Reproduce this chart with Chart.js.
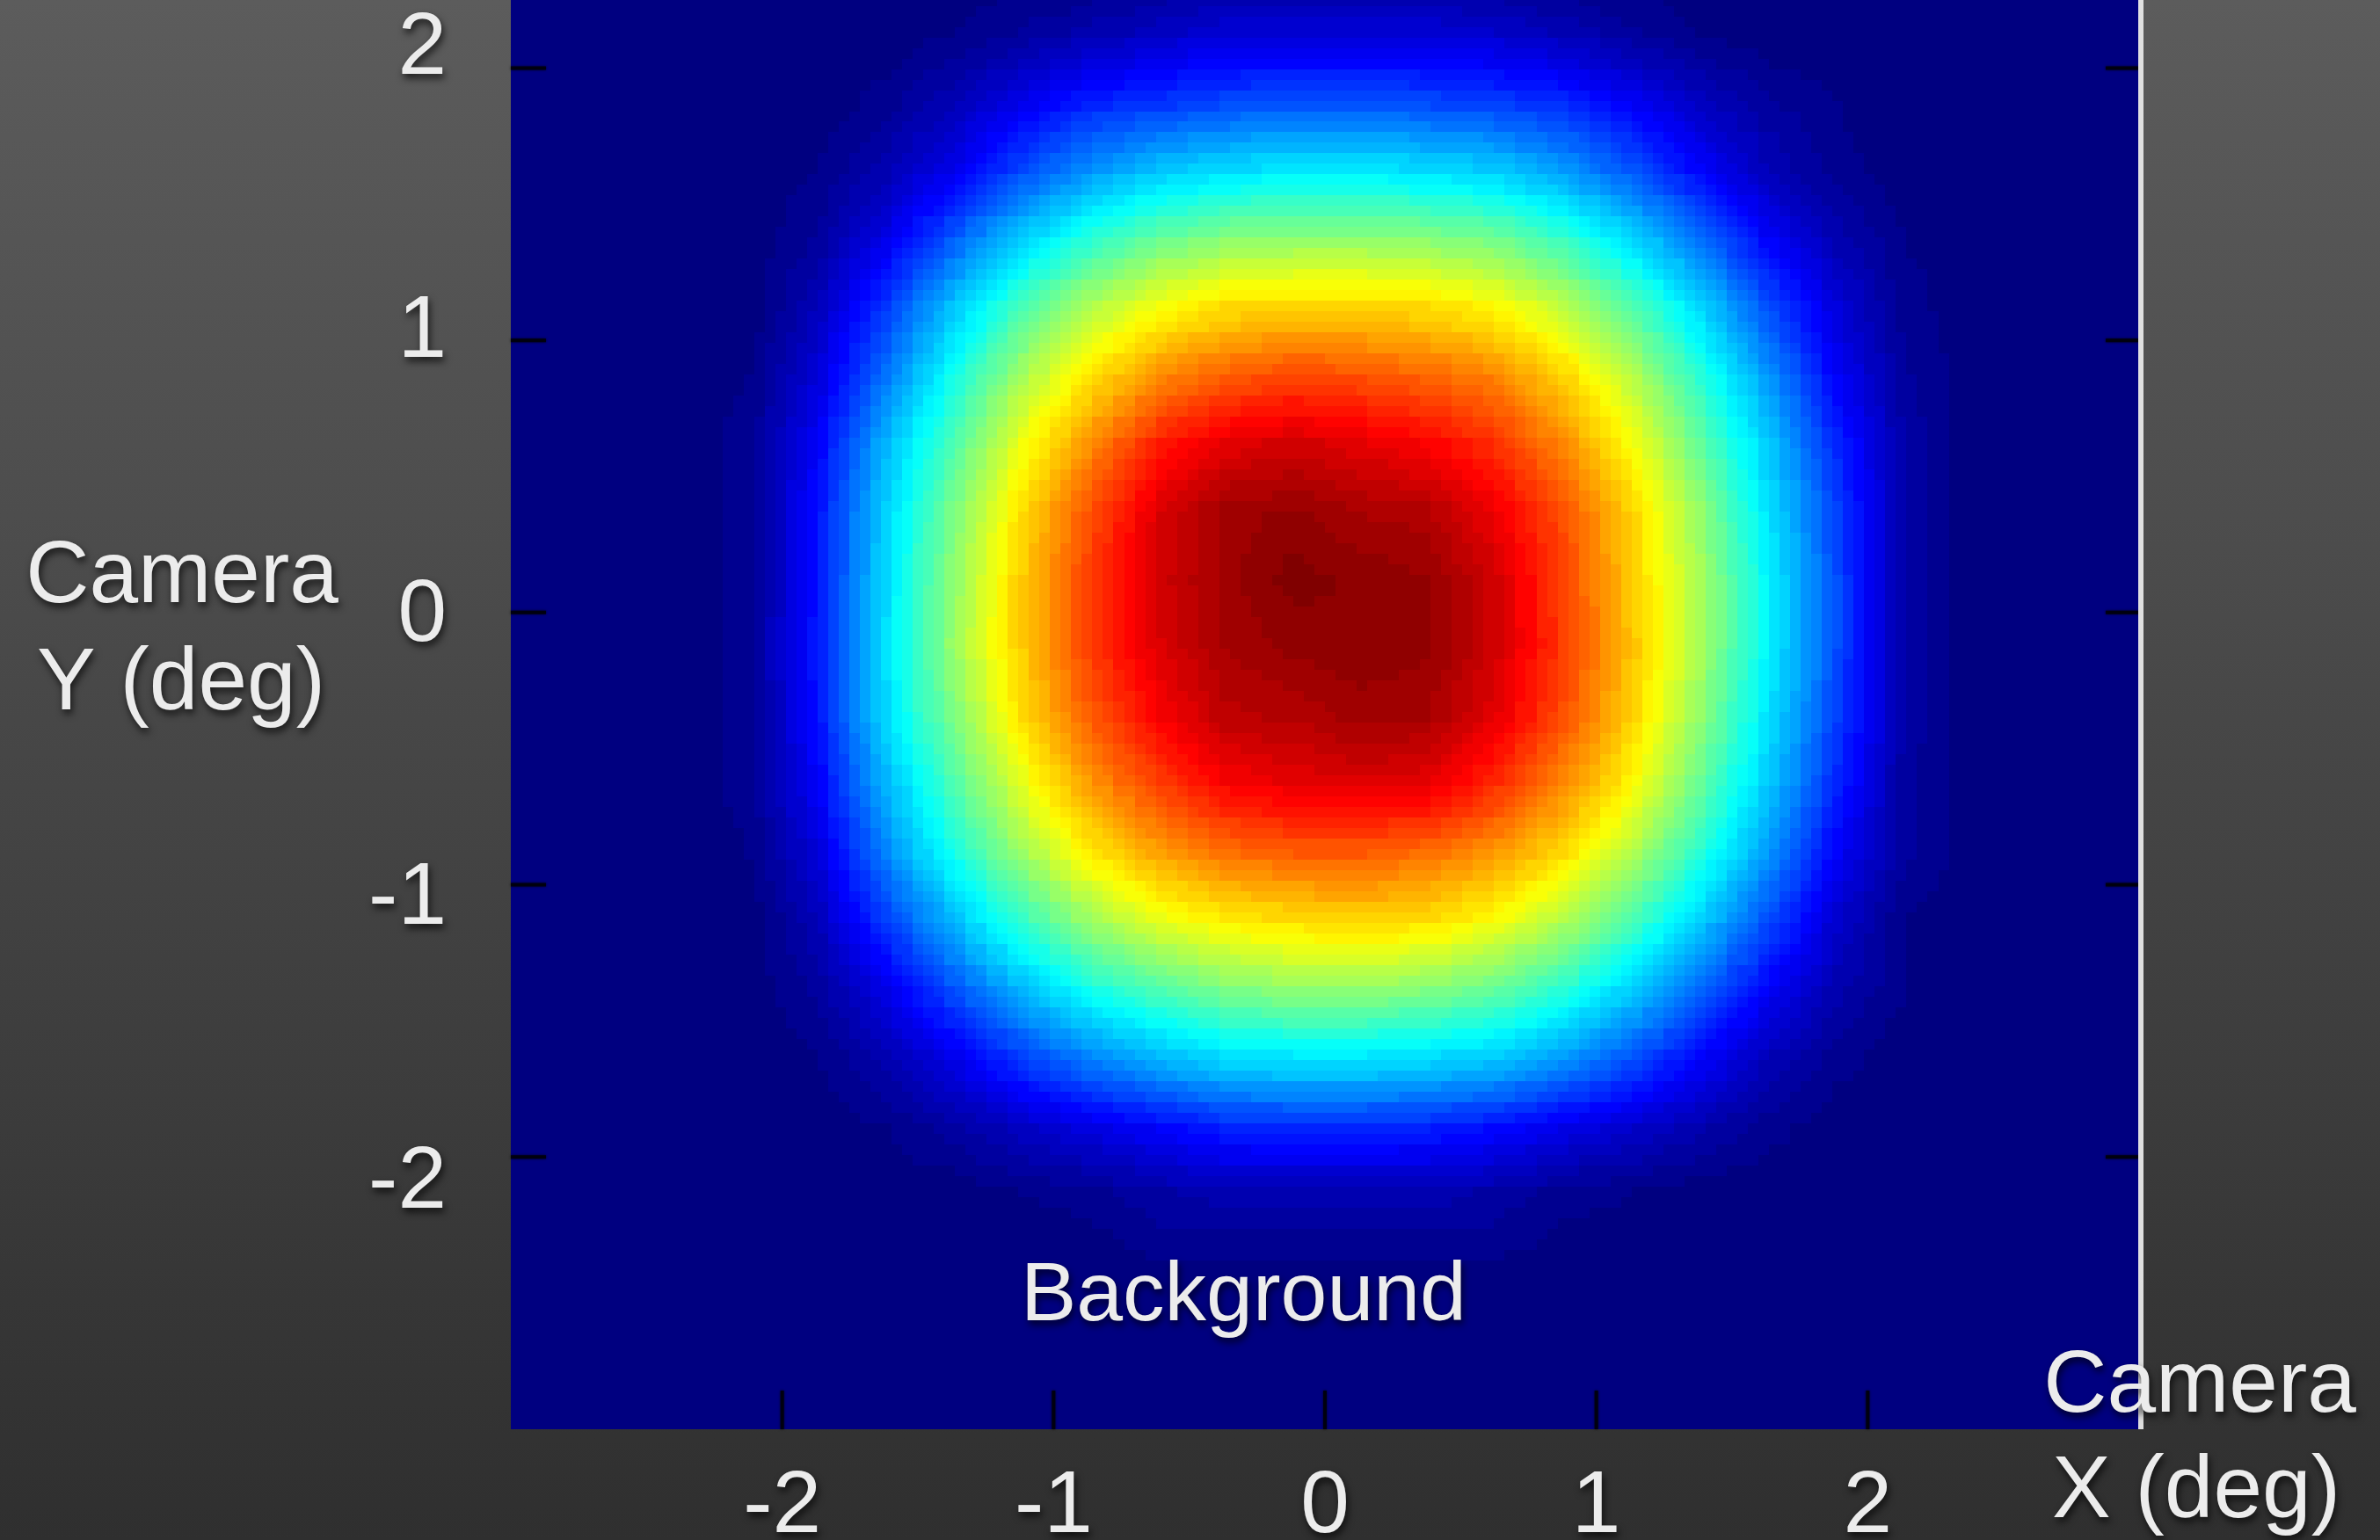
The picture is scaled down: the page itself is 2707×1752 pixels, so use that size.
<!DOCTYPE html>
<html>
<head>
<meta charset="utf-8">
<style>
  html, body { margin: 0; padding: 0; background: #2f2f2f; overflow: hidden; }
  canvas { display: block; }
</style>
</head>
<body>
<canvas id="bgMap" width="2707" height="1752"></canvas>

<script src="https://cdn.jsdelivr.net/npm/chart.js"></script>

<script>
// camera background map, rate in % of the peak, cells of 0.25 deg
const xCenters = [-2.875, -2.625, -2.375, -2.125, -1.875, -1.625, -1.375, -1.125, -0.875, -0.625, -0.375, -0.125,
                  0.125, 0.375, 0.625, 0.875, 1.125, 1.375, 1.625, 1.875, 2.125, 2.375, 2.625, 2.875]
const yCenters = [2.375, 2.125, 1.875, 1.625, 1.375, 1.125, 0.875, 0.625, 0.375, 0.125,
                  -0.125, -0.375, -0.625, -0.875, -1.125, -1.375, -1.625, -1.875, -2.125, -2.375, -2.625, -2.875]

const rowP2375 = [0,0,0,0,0,0,0,0,0,1,2,2, 2,2,1,0,0,0,0,0,0,0,0,0]
const rowP2125 = [0,0,0,0,0,0,1,3,5,7,9,9, 9,9,8,6,3,1,0,0,0,0,0,0]
const rowP1875 = [0,0,0,0,0,2,6,11,16,18,20,21, 21,20,19,17,12,7,3,1,0,0,0,0]
const rowP1625 = [0,0,0,0,1,5,11,20,27,32,35,36, 36,35,33,28,21,13,6,2,0,0,0,0]
const rowP1375 = [0,0,0,0,3,10,22,33,42,48,51,52, 52,51,49,43,34,24,12,5,1,0,0,0]
const rowP1125 = [0,0,0,0,6,18,32,45,55,62,66,67, 67,66,63,56,46,34,20,9,2,0,0,0]
const rowP0875 = [0,0,0,1,9,24,40,54,65,74,79,81, 80,78,75,67,56,42,27,12,3,0,0,0]
const rowP0625 = [0,0,0,2,12,30,46,61,74,85,90,92, 90,88,83,74,62,48,32,16,4,0,0,0]
const rowP0375 = [0,0,0,2,14,33,50,66,80,91,97,98, 96,95,89,80,67,52,35,19,4,0,0,0]
const rowP0125 = [0,0,0,2,14,34,52,68,82,92,97,100, 99,98,92,81,68,54,37,20,4,0,0,0]
const rowM0125 = [0,0,0,2,15,35,53,68,82,91,96,98, 99,98,92,82,69,54,37,20,4,0,0,0]
const rowM0375 = [0,0,0,2,14,34,50,66,79,88,94,95, 97,96,90,80,67,52,35,19,4,0,0,0]
const rowM0625 = [0,0,0,2,12,30,46,60,73,82,88,90, 91,90,84,74,63,48,32,16,3,0,0,0]
const rowM0875 = [0,0,0,1,9,25,40,53,64,72,77,79, 79,77,73,66,55,42,27,12,3,0,0,0]
const rowM1125 = [0,0,0,0,6,18,31,43,53,60,64,66, 67,66,62,55,45,33,20,8,1,0,0,0]
const rowM1375 = [0,0,0,0,3,10,21,31,40,46,50,52, 52,51,48,42,33,23,12,5,1,0,0,0]
const rowM1625 = [0,0,0,0,1,5,11,19,26,31,35,36, 36,35,33,28,21,13,6,2,0,0,0,0]
const rowM1875 = [0,0,0,0,0,1,4,7,10,13,16,17, 17,16,14,11,8,5,2,0,0,0,0,0]
const rowM2125 = [0,0,0,0,0,0,0,1,2,4,5,5, 5,5,4,2,1,0,0,0,0,0,0,0]
const rowM2375 = [0,0,0,0,0,0,0,0,0,1,1,1, 1,1,1,0,0,0,0,0,0,0,0,0]
const rowM2625 = [0,0,0,0,0,0,0,0,0,0,0,0, 0,0,0,0,0,0,0,0,0,0,0,0]
const rowM2875 = [0,0,0,0,0,0,0,0,0,0,0,0, 0,0,0,0,0,0,0,0,0,0,0,0]

const xTicks = [-2, -1, 0, 1, 2]
const yTicks = [-2, -1, 0, 1, 2]

const mapRows = [rowP2375, rowP2125, rowP1875, rowP1625, rowP1375, rowP1125, rowP0875, rowP0625, rowP0375, rowP0125,
                 rowM0125, rowM0375, rowM0625, rowM0875, rowM1125, rowM1375, rowM1625, rowM1875, rowM2125, rowM2375,
                 rowM2625, rowM2875]

const FONT = '"Liberation Sans", Arial, Helvetica, sans-serif'
const TEXT = '#ececec'

// matlab style jet, 64 levels
function jet(v) {
    const q = Math.round(Math.min(1, Math.max(0, v)) * 63) / 63
    const c = t => Math.round(Math.min(1, Math.max(0, t)) * 255)
    return [c(1.5 - Math.abs(4 * q - 3)), c(1.5 - Math.abs(4 * q - 2)), c(1.5 - Math.abs(4 * q - 1))]
}

function setShadow(ctx) {
    ctx.shadowColor = 'rgba(0,0,0,0.7)'
    ctx.shadowBlur = 8
    ctx.shadowOffsetX = 2
    ctx.shadowOffsetY = 5
}

function label(ctx, text, x, y, size) {
    ctx.save()
    ctx.font = size + 'px ' + FONT
    ctx.textAlign = 'center'
    ctx.textBaseline = 'alphabetic'
    ctx.fillStyle = TEXT
    setShadow(ctx)
    ctx.fillText(text, x, y)
    ctx.restore()
}

function drawMap(chart) {
    const ctx = chart.ctx
    const a = chart.chartArea
    const xs = chart.scales.x, ys = chart.scales.y
    const nC = xCenters.length, nR = yCenters.length
    const dx = xCenters[1] - xCenters[0], dy = yCenters[0] - yCenters[1]
    const left = xs.getPixelForValue(xCenters[0] - dx / 2)
    const right = xs.getPixelForValue(xCenters[nC - 1] + dx / 2)
    const top = ys.getPixelForValue(yCenters[0] + dy / 2)
    const bottom = ys.getPixelForValue(yCenters[nR - 1] - dy / 2)

    // one grey pixel per cell
    const src = document.createElement('canvas')
    src.width = nC; src.height = nR
    const sctx = src.getContext('2d')
    const img = sctx.createImageData(nC, nR)
    for (let r = 0; r < nR; r++) {
        for (let c = 0; c < nC; c++) {
            const g = Math.round(mapRows[r][c] / 100 * 255)
            const k = (r * nC + c) * 4
            img.data[k] = g; img.data[k + 1] = g; img.data[k + 2] = g; img.data[k + 3] = 255
        }
    }
    sctx.putImageData(img, 0, 0)

    // resampled bitmap with ~12 px pixels, then coloured
    const bw = Math.round((right - left) / 12), bh = Math.round((bottom - top) / 12)
    const mid = document.createElement('canvas')
    mid.width = bw; mid.height = bh
    const m = mid.getContext('2d', { willReadFrequently: true })
    m.imageSmoothingEnabled = true
    m.drawImage(src, 0, 0, bw, bh)
    const d = m.getImageData(0, 0, bw, bh)
    for (let i = 0; i < d.data.length; i += 4) {
        const col = jet(d.data[i] / 255)
        d.data[i] = col[0]; d.data[i + 1] = col[1]; d.data[i + 2] = col[2]; d.data[i + 3] = 255
    }
    m.putImageData(d, 0, 0)

    ctx.save()
    ctx.beginPath()
    ctx.rect(a.left, a.top, a.right - a.left, a.bottom - a.top)
    ctx.clip()
    ctx.imageSmoothingEnabled = false
    ctx.drawImage(mid, left, top, right - left, bottom - top)
    ctx.restore()
}

const slideLook = {
    id: 'slideLook',
    beforeDraw(chart) {
        const ctx = chart.ctx
        const g = ctx.createLinearGradient(0, 0, 0, chart.height)
        g.addColorStop(0, '#5c5c5c')
        g.addColorStop(1, '#2f2f2f')
        ctx.save()
        ctx.fillStyle = g
        ctx.fillRect(0, 0, chart.width, chart.height)
        ctx.restore()
        // tick labels drawn by the scales get the drop shadow
        ctx.save()
        setShadow(ctx)
    },
    beforeDatasetsDraw(chart) {
        chart.ctx.restore()
        drawMap(chart)
    },
    afterDatasetsDraw(chart) {
        const ctx = chart.ctx
        const a = chart.chartArea
        const xs = chart.scales.x, ys = chart.scales.y

        // tick marks inside the frame
        ctx.save()
        ctx.strokeStyle = 'rgba(0,0,10,0.9)'
        ctx.lineWidth = 4
        ctx.shadowColor = 'rgba(0,0,0,0.8)'
        ctx.shadowBlur = 3
        ctx.beginPath()
        yTicks.forEach(v => {
            const py = ys.getPixelForValue(v)
            ctx.moveTo(a.left, py); ctx.lineTo(a.left + 40, py)
            ctx.moveTo(a.right - 38, py); ctx.lineTo(a.right, py)
        })
        xTicks.forEach(v => {
            const px = xs.getPixelForValue(v)
            ctx.moveTo(px, a.bottom); ctx.lineTo(px, a.bottom - 44)
        })
        ctx.stroke()
        ctx.restore()

        // light edge on the right
        ctx.save()
        ctx.fillStyle = 'rgba(232,232,232,0.95)'
        ctx.fillRect(a.right - 1, a.top, 6, a.bottom - a.top)
        ctx.restore()

        label(ctx, 'Background', xs.getPixelForValue(-0.3), ys.getPixelForValue(-2.6), 95)

        label(ctx, 'Camera', a.left - 374, 685, 100)
        label(ctx, 'Y (deg)', a.left - 375, 807, 100)
        label(ctx, 'Camera', a.right + 69, 1606, 100)
        label(ctx, 'X (deg)', a.right + 65, 1726, 100)
    }
}

Chart.defaults.font.family = FONT

const ctxMap = document.getElementById('bgMap')

const bgChart = new Chart(ctxMap, {
    type: 'scatter',
    data: {
        datasets: [{ label: 'Background', data: [], xAxisID: 'x', yAxisID: 'y' }]
    },
    options: {
        responsive: false,
        animation: false,
        devicePixelRatio: 1,
        layout: { padding: { left: 0, top: 0, right: 274, bottom: 0 } },
        plugins: { legend: { display: false }, tooltip: { enabled: false } },
        scales: {
            x: {
                type: 'linear',
                position: 'bottom',
                min: -3,
                max: 3,
                afterBuildTicks: s => { s.ticks = xTicks.map(v => ({ value: v })) },
                afterFit: s => { s.height = 126; s.paddingLeft = 0; s.paddingRight = 0 },
                grid: { display: false, drawTicks: false },
                border: { display: false },
                ticks: { color: TEXT, font: { size: 100 }, padding: 29, maxRotation: 0, autoSkip: false }
            },
            y: {
                type: 'linear',
                display: false,
                min: -3,
                max: 2.25
            },
            // labels of the y axis sit on a slightly wider spacing than the tick marks
            yl: {
                type: 'linear',
                axis: 'y',
                position: 'left',
                min: -2.868,
                max: 2.174,
                afterBuildTicks: s => { s.ticks = yTicks.map(v => ({ value: v })) },
                afterFit: s => { s.width = 581; s.paddingTop = 0; s.paddingBottom = 0 },
                grid: { display: false, drawTicks: false },
                border: { display: false },
                ticks: { color: TEXT, font: { size: 100 }, padding: 73, autoSkip: false }
            }
        }
    },
    plugins: [slideLook]
})
</script>
</body>
</html>
